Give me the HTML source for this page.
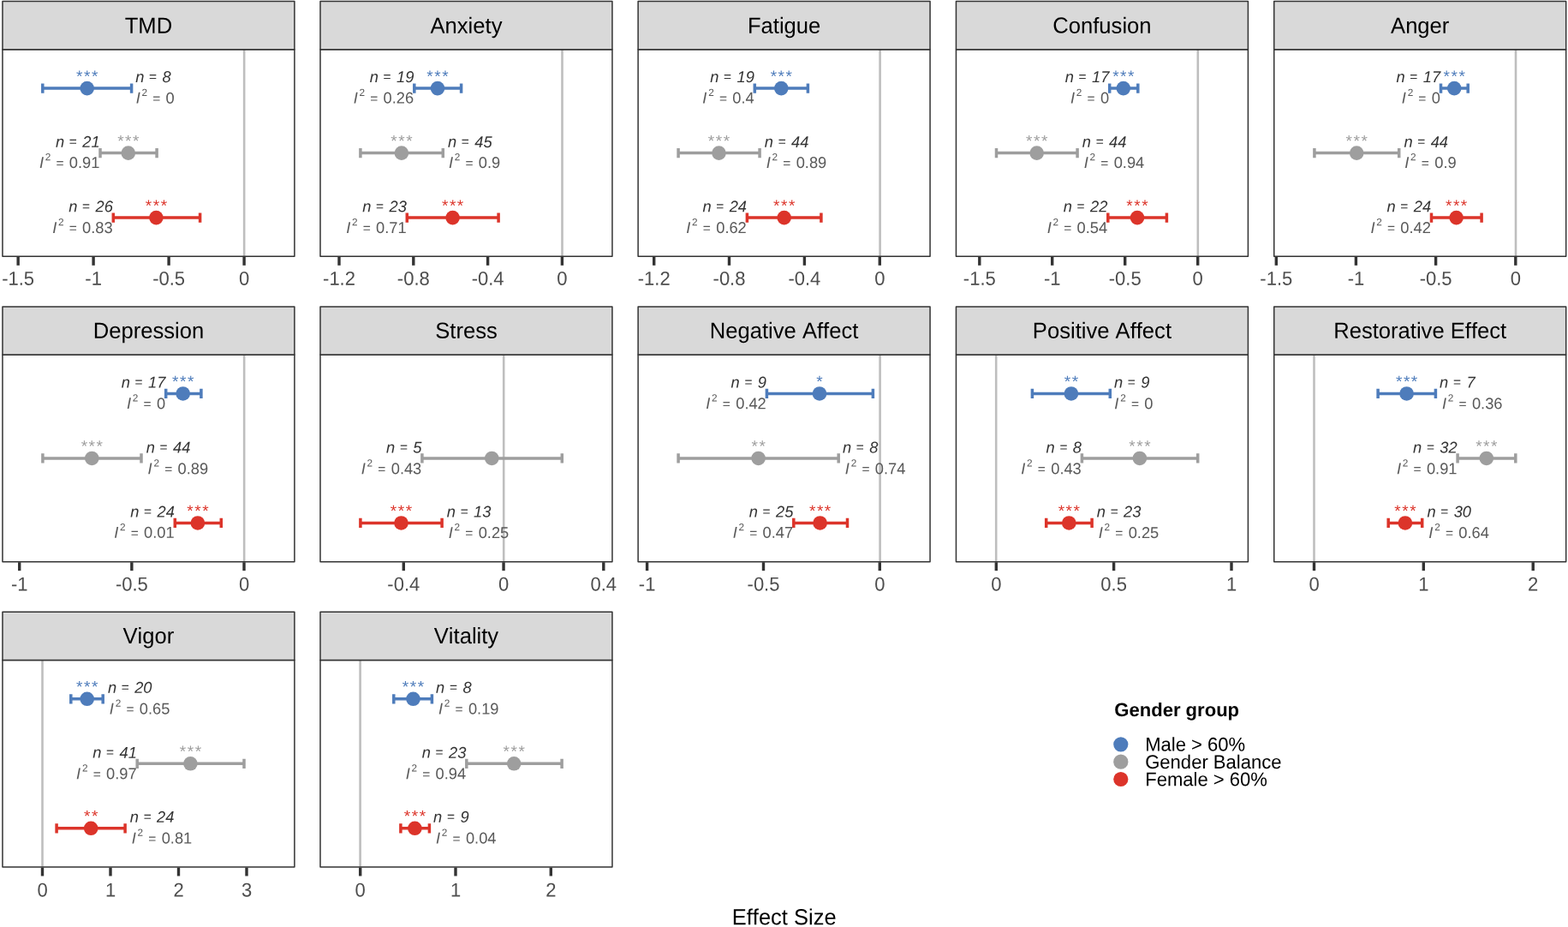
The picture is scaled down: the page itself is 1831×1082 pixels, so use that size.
<!DOCTYPE html>
<html lang="en"><head><meta charset="utf-8"><title>Effect Size by Gender group</title>
<style>
html,body{margin:0;padding:0;background:#fff;}
body{width:1831px;height:1082px;overflow:hidden;}
svg{display:block;font-family:"Liberation Sans",sans-serif;font-kerning:none;}
.strip{fill:#D9D9D9;stroke:#333333;stroke-width:1.5;stroke-linejoin:round;}
.panel{fill:#FFFFFF;stroke:none;}
.border{fill:none;stroke:#333333;stroke-width:1.5;stroke-linejoin:round;}
.zero{stroke:#BEBEBE;stroke-width:2.6;}
.tick{stroke:#333333;stroke-width:3.4;}
.ax{font-size:22.66px;fill:#4D4D4D;text-anchor:middle;}
.st{font-size:26.11px;fill:#000000;text-anchor:middle;}
.eb{stroke-width:3.5;fill:none;}
.star{font-size:19px;text-anchor:middle;letter-spacing:1.56px;}
.nl{font-size:18.48px;font-style:italic;fill:#333333;}
.eq{font-size:15.71px;}
.il{font-size:18.48px;fill:#595959;}
.sup{font-size:11.92px;}
.it{font-style:italic;}
.e{text-anchor:end;}
.lt{font-size:22.05px;font-weight:bold;fill:#000;}
.lg{font-size:22.49px;fill:#000;}
.xt{font-size:26.01px;fill:#000;text-anchor:middle;}
</style></head><body>
<svg width="1831" height="1082" viewBox="0 0 1831 1082">
<rect x="0" y="0" width="1831" height="1082" fill="#FFFFFF"/>
<g>
<rect class="panel" x="2.95" y="57.7" width="340.95" height="241.6"/>
<line class="zero" x1="285.15" y1="57.7" x2="285.15" y2="299.3"/>
<path class="eb" stroke="#4E7CBB" d="M49.8 103.1H153.6M49.8 97.5V108.7M153.6 97.5V108.7"/>
<circle cx="101.7" cy="103.1" r="8.3" fill="#4E7CBB"/>
<text class="star" transform="translate(102.48,95.4) rotate(0.03) scale(1.0000,1)" fill="#4E7CBB">***</text>
<text class="nl" transform="translate(158.32,95.97) rotate(0.03) scale(0.9901,1)">n <tspan class="eq" dx="0.31" dy="-1.3">=</tspan><tspan dx="1.56" dy="1.3"> 8</tspan></text>
<text class="il" transform="translate(158.67,120.61) rotate(0.03) scale(0.9901,1)"><tspan class="it">I</tspan><tspan class="sup" dx="1.77" dy="-8.7">2</tspan><tspan dx="0.29" dy="8.7"> </tspan><tspan class="eq" dx="0.81" dy="-0.4">=</tspan><tspan dx="1.21" dy="0.4"> 0</tspan></text>
<path class="eb" stroke="#9E9E9E" d="M117 178.6H183.1M117 173V184.2M183.1 173V184.2"/>
<circle cx="149.8" cy="178.6" r="8.3" fill="#9E9E9E"/>
<text class="star" transform="translate(150.58,170.9) rotate(0.03) scale(1.0000,1)" fill="#9E9E9E">***</text>
<text class="nl e" transform="translate(116.6,171.87) rotate(0.03) scale(0.9901,1)">n <tspan class="eq" dx="0.31" dy="-1.3">=</tspan><tspan dx="1.56" dy="1.3"> 21</tspan></text>
<text class="il e" transform="translate(116.4,196.07) rotate(0.03) scale(0.9901,1)"><tspan class="it">I</tspan><tspan class="sup" dx="1.77" dy="-8.7">2</tspan><tspan dx="0.29" dy="8.7"> </tspan><tspan class="eq" dx="0.81" dy="-0.4">=</tspan><tspan dx="1.21" dy="0.4"> 0.91</tspan></text>
<path class="eb" stroke="#DC342A" d="M132.3 254.1H233.6M132.3 248.5V259.7M233.6 248.5V259.7"/>
<circle cx="182.4" cy="254.1" r="8.3" fill="#DC342A"/>
<text class="star" transform="translate(183.18,246.4) rotate(0.03) scale(1.0000,1)" fill="#DC342A">***</text>
<text class="nl e" transform="translate(131.9,247.21) rotate(0.03) scale(0.9901,1)">n <tspan class="eq" dx="0.31" dy="-1.3">=</tspan><tspan dx="1.56" dy="1.3"> 26</tspan></text>
<text class="il e" transform="translate(131.7,271.97) rotate(0.03) scale(0.9901,1)"><tspan class="it">I</tspan><tspan class="sup" dx="1.77" dy="-8.7">2</tspan><tspan dx="0.29" dy="8.7"> </tspan><tspan class="eq" dx="0.81" dy="-0.4">=</tspan><tspan dx="1.21" dy="0.4"> 0.83</tspan></text>
<rect class="border" x="2.95" y="57.7" width="340.95" height="241.6"/>
<rect class="strip" x="2.95" y="1.6" width="340.95" height="56.1"/>
<text class="st" transform="translate(173.42,38.65) rotate(0.03) scale(0.9804,1)">TMD</text>
<line class="tick" x1="21.15" y1="299.9" x2="21.15" y2="309.8"/>
<text class="ax" transform="translate(21.15,332.8) rotate(0.03) scale(0.9709,1)">-1.5</text>
<line class="tick" x1="109.1" y1="299.9" x2="109.1" y2="309.8"/>
<text class="ax" transform="translate(109.1,332.8) rotate(0.03) scale(0.9709,1)">-1</text>
<line class="tick" x1="197.1" y1="299.9" x2="197.1" y2="309.8"/>
<text class="ax" transform="translate(197.1,332.8) rotate(0.03) scale(0.9709,1)">-0.5</text>
<line class="tick" x1="285.1" y1="299.9" x2="285.1" y2="309.8"/>
<text class="ax" transform="translate(285.1,332.8) rotate(0.03) scale(0.9709,1)">0</text>
</g>
<g>
<rect class="panel" x="374" y="57.7" width="340.95" height="241.6"/>
<line class="zero" x1="656.5" y1="57.7" x2="656.5" y2="299.3"/>
<path class="eb" stroke="#4E7CBB" d="M483.8 103.1H538.6M483.8 97.5V108.7M538.6 97.5V108.7"/>
<circle cx="511" cy="103.1" r="8.3" fill="#4E7CBB"/>
<text class="star" transform="translate(511.78,95.4) rotate(0.03) scale(1.0000,1)" fill="#4E7CBB">***</text>
<text class="nl e" transform="translate(483.4,95.97) rotate(0.03) scale(0.9901,1)">n <tspan class="eq" dx="0.31" dy="-1.3">=</tspan><tspan dx="1.56" dy="1.3"> 19</tspan></text>
<text class="il e" transform="translate(483.2,120.61) rotate(0.03) scale(0.9901,1)"><tspan class="it">I</tspan><tspan class="sup" dx="1.77" dy="-8.7">2</tspan><tspan dx="0.29" dy="8.7"> </tspan><tspan class="eq" dx="0.81" dy="-0.4">=</tspan><tspan dx="1.21" dy="0.4"> 0.26</tspan></text>
<path class="eb" stroke="#9E9E9E" d="M420.9 178.6H517.3M420.9 173V184.2M517.3 173V184.2"/>
<circle cx="468.9" cy="178.6" r="8.3" fill="#9E9E9E"/>
<text class="star" transform="translate(469.68,170.9) rotate(0.03) scale(1.0000,1)" fill="#9E9E9E">***</text>
<text class="nl" transform="translate(523.04,171.87) rotate(0.03) scale(0.9901,1)">n <tspan class="eq" dx="0.31" dy="-1.3">=</tspan><tspan dx="1.56" dy="1.3"> 45</tspan></text>
<text class="il" transform="translate(523.89,196.07) rotate(0.03) scale(0.9901,1)"><tspan class="it">I</tspan><tspan class="sup" dx="1.77" dy="-8.7">2</tspan><tspan dx="0.29" dy="8.7"> </tspan><tspan class="eq" dx="0.81" dy="-0.4">=</tspan><tspan dx="1.21" dy="0.4"> 0.9</tspan></text>
<path class="eb" stroke="#DC342A" d="M475.3 254.1H582.1M475.3 248.5V259.7M582.1 248.5V259.7"/>
<circle cx="528.6" cy="254.1" r="8.3" fill="#DC342A"/>
<text class="star" transform="translate(529.38,246.4) rotate(0.03) scale(1.0000,1)" fill="#DC342A">***</text>
<text class="nl e" transform="translate(474.9,247.21) rotate(0.03) scale(0.9901,1)">n <tspan class="eq" dx="0.31" dy="-1.3">=</tspan><tspan dx="1.56" dy="1.3"> 23</tspan></text>
<text class="il e" transform="translate(474.7,271.97) rotate(0.03) scale(0.9901,1)"><tspan class="it">I</tspan><tspan class="sup" dx="1.77" dy="-8.7">2</tspan><tspan dx="0.29" dy="8.7"> </tspan><tspan class="eq" dx="0.81" dy="-0.4">=</tspan><tspan dx="1.21" dy="0.4"> 0.71</tspan></text>
<rect class="border" x="374" y="57.7" width="340.95" height="241.6"/>
<rect class="strip" x="374" y="1.6" width="340.95" height="56.1"/>
<text class="st" transform="translate(544.48,38.65) rotate(0.03) scale(0.9804,1)">Anxiety</text>
<line class="tick" x1="396" y1="299.9" x2="396" y2="309.8"/>
<text class="ax" transform="translate(396,332.8) rotate(0.03) scale(0.9709,1)">-1.2</text>
<line class="tick" x1="482.8" y1="299.9" x2="482.8" y2="309.8"/>
<text class="ax" transform="translate(482.8,332.8) rotate(0.03) scale(0.9709,1)">-0.8</text>
<line class="tick" x1="569.6" y1="299.9" x2="569.6" y2="309.8"/>
<text class="ax" transform="translate(569.6,332.8) rotate(0.03) scale(0.9709,1)">-0.4</text>
<line class="tick" x1="656.4" y1="299.9" x2="656.4" y2="309.8"/>
<text class="ax" transform="translate(656.4,332.8) rotate(0.03) scale(0.9709,1)">0</text>
</g>
<g>
<rect class="panel" x="745.12" y="57.7" width="340.95" height="241.6"/>
<line class="zero" x1="1027.6" y1="57.7" x2="1027.6" y2="299.3"/>
<path class="eb" stroke="#4E7CBB" d="M881.3 103.1H943.4M881.3 97.5V108.7M943.4 97.5V108.7"/>
<circle cx="912.3" cy="103.1" r="8.3" fill="#4E7CBB"/>
<text class="star" transform="translate(913.08,95.4) rotate(0.03) scale(1.0000,1)" fill="#4E7CBB">***</text>
<text class="nl e" transform="translate(880.9,95.97) rotate(0.03) scale(0.9901,1)">n <tspan class="eq" dx="0.31" dy="-1.3">=</tspan><tspan dx="1.56" dy="1.3"> 19</tspan></text>
<text class="il e" transform="translate(880.7,120.61) rotate(0.03) scale(0.9901,1)"><tspan class="it">I</tspan><tspan class="sup" dx="1.77" dy="-8.7">2</tspan><tspan dx="0.29" dy="8.7"> </tspan><tspan class="eq" dx="0.81" dy="-0.4">=</tspan><tspan dx="1.21" dy="0.4"> 0.4</tspan></text>
<path class="eb" stroke="#9E9E9E" d="M792.1 178.6H887.1M792.1 173V184.2M887.1 173V184.2"/>
<circle cx="839.5" cy="178.6" r="8.3" fill="#9E9E9E"/>
<text class="star" transform="translate(840.28,170.9) rotate(0.03) scale(1.0000,1)" fill="#9E9E9E">***</text>
<text class="nl" transform="translate(892.84,171.87) rotate(0.03) scale(0.9901,1)">n <tspan class="eq" dx="0.31" dy="-1.3">=</tspan><tspan dx="1.56" dy="1.3"> 44</tspan></text>
<text class="il" transform="translate(894.71,196.07) rotate(0.03) scale(0.9901,1)"><tspan class="it">I</tspan><tspan class="sup" dx="1.77" dy="-8.7">2</tspan><tspan dx="0.29" dy="8.7"> </tspan><tspan class="eq" dx="0.81" dy="-0.4">=</tspan><tspan dx="1.21" dy="0.4"> 0.89</tspan></text>
<path class="eb" stroke="#DC342A" d="M872.4 254.1H958.9M872.4 248.5V259.7M958.9 248.5V259.7"/>
<circle cx="915.7" cy="254.1" r="8.3" fill="#DC342A"/>
<text class="star" transform="translate(916.48,246.4) rotate(0.03) scale(1.0000,1)" fill="#DC342A">***</text>
<text class="nl e" transform="translate(872,247.21) rotate(0.03) scale(0.9901,1)">n <tspan class="eq" dx="0.31" dy="-1.3">=</tspan><tspan dx="1.56" dy="1.3"> 24</tspan></text>
<text class="il e" transform="translate(871.8,271.97) rotate(0.03) scale(0.9901,1)"><tspan class="it">I</tspan><tspan class="sup" dx="1.77" dy="-8.7">2</tspan><tspan dx="0.29" dy="8.7"> </tspan><tspan class="eq" dx="0.81" dy="-0.4">=</tspan><tspan dx="1.21" dy="0.4"> 0.62</tspan></text>
<rect class="border" x="745.12" y="57.7" width="340.95" height="241.6"/>
<rect class="strip" x="745.12" y="1.6" width="340.95" height="56.1"/>
<text class="st" transform="translate(915.6,38.65) rotate(0.03) scale(0.9804,1)">Fatigue</text>
<line class="tick" x1="763.7" y1="299.9" x2="763.7" y2="309.8"/>
<text class="ax" transform="translate(763.7,332.8) rotate(0.03) scale(0.9709,1)">-1.2</text>
<line class="tick" x1="851.5" y1="299.9" x2="851.5" y2="309.8"/>
<text class="ax" transform="translate(851.5,332.8) rotate(0.03) scale(0.9709,1)">-0.8</text>
<line class="tick" x1="939.4" y1="299.9" x2="939.4" y2="309.8"/>
<text class="ax" transform="translate(939.4,332.8) rotate(0.03) scale(0.9709,1)">-0.4</text>
<line class="tick" x1="1027.3" y1="299.9" x2="1027.3" y2="309.8"/>
<text class="ax" transform="translate(1027.3,332.8) rotate(0.03) scale(0.9709,1)">0</text>
</g>
<g>
<rect class="panel" x="1116.46" y="57.7" width="340.95" height="241.6"/>
<line class="zero" x1="1398.8" y1="57.7" x2="1398.8" y2="299.3"/>
<path class="eb" stroke="#4E7CBB" d="M1295.7 103.1H1328.8M1295.7 97.5V108.7M1328.8 97.5V108.7"/>
<circle cx="1311.8" cy="103.1" r="8.3" fill="#4E7CBB"/>
<text class="star" transform="translate(1312.58,95.4) rotate(0.03) scale(1.0000,1)" fill="#4E7CBB">***</text>
<text class="nl e" transform="translate(1295.3,95.97) rotate(0.03) scale(0.9901,1)">n <tspan class="eq" dx="0.31" dy="-1.3">=</tspan><tspan dx="1.56" dy="1.3"> 17</tspan></text>
<text class="il e" transform="translate(1295.1,120.61) rotate(0.03) scale(0.9901,1)"><tspan class="it">I</tspan><tspan class="sup" dx="1.77" dy="-8.7">2</tspan><tspan dx="0.29" dy="8.7"> </tspan><tspan class="eq" dx="0.81" dy="-0.4">=</tspan><tspan dx="1.21" dy="0.4"> 0</tspan></text>
<path class="eb" stroke="#9E9E9E" d="M1163.5 178.6H1258.1M1163.5 173V184.2M1258.1 173V184.2"/>
<circle cx="1210.7" cy="178.6" r="8.3" fill="#9E9E9E"/>
<text class="star" transform="translate(1211.48,170.9) rotate(0.03) scale(1.0000,1)" fill="#9E9E9E">***</text>
<text class="nl" transform="translate(1263.84,171.87) rotate(0.03) scale(0.9901,1)">n <tspan class="eq" dx="0.31" dy="-1.3">=</tspan><tspan dx="1.56" dy="1.3"> 44</tspan></text>
<text class="il" transform="translate(1265.71,196.07) rotate(0.03) scale(0.9901,1)"><tspan class="it">I</tspan><tspan class="sup" dx="1.77" dy="-8.7">2</tspan><tspan dx="0.29" dy="8.7"> </tspan><tspan class="eq" dx="0.81" dy="-0.4">=</tspan><tspan dx="1.21" dy="0.4"> 0.94</tspan></text>
<path class="eb" stroke="#DC342A" d="M1293.8 254.1H1362.4M1293.8 248.5V259.7M1362.4 248.5V259.7"/>
<circle cx="1328" cy="254.1" r="8.3" fill="#DC342A"/>
<text class="star" transform="translate(1328.78,246.4) rotate(0.03) scale(1.0000,1)" fill="#DC342A">***</text>
<text class="nl e" transform="translate(1293.4,247.21) rotate(0.03) scale(0.9901,1)">n <tspan class="eq" dx="0.31" dy="-1.3">=</tspan><tspan dx="1.56" dy="1.3"> 22</tspan></text>
<text class="il e" transform="translate(1293.2,271.97) rotate(0.03) scale(0.9901,1)"><tspan class="it">I</tspan><tspan class="sup" dx="1.77" dy="-8.7">2</tspan><tspan dx="0.29" dy="8.7"> </tspan><tspan class="eq" dx="0.81" dy="-0.4">=</tspan><tspan dx="1.21" dy="0.4"> 0.54</tspan></text>
<rect class="border" x="1116.46" y="57.7" width="340.95" height="241.6"/>
<rect class="strip" x="1116.46" y="1.6" width="340.95" height="56.1"/>
<text class="st" transform="translate(1286.93,38.65) rotate(0.03) scale(0.9804,1)">Confusion</text>
<line class="tick" x1="1143.8" y1="299.9" x2="1143.8" y2="309.8"/>
<text class="ax" transform="translate(1143.8,332.8) rotate(0.03) scale(0.9709,1)">-1.5</text>
<line class="tick" x1="1228.7" y1="299.9" x2="1228.7" y2="309.8"/>
<text class="ax" transform="translate(1228.7,332.8) rotate(0.03) scale(0.9709,1)">-1</text>
<line class="tick" x1="1313.7" y1="299.9" x2="1313.7" y2="309.8"/>
<text class="ax" transform="translate(1313.7,332.8) rotate(0.03) scale(0.9709,1)">-0.5</text>
<line class="tick" x1="1398.7" y1="299.9" x2="1398.7" y2="309.8"/>
<text class="ax" transform="translate(1398.7,332.8) rotate(0.03) scale(0.9709,1)">0</text>
</g>
<g>
<rect class="panel" x="1487.74" y="57.7" width="340.95" height="241.6"/>
<line class="zero" x1="1770" y1="57.7" x2="1770" y2="299.3"/>
<path class="eb" stroke="#4E7CBB" d="M1682.5 103.1H1714.2M1682.5 97.5V108.7M1714.2 97.5V108.7"/>
<circle cx="1698.2" cy="103.1" r="8.3" fill="#4E7CBB"/>
<text class="star" transform="translate(1698.98,95.4) rotate(0.03) scale(1.0000,1)" fill="#4E7CBB">***</text>
<text class="nl e" transform="translate(1682.1,95.97) rotate(0.03) scale(0.9901,1)">n <tspan class="eq" dx="0.31" dy="-1.3">=</tspan><tspan dx="1.56" dy="1.3"> 17</tspan></text>
<text class="il e" transform="translate(1681.9,120.61) rotate(0.03) scale(0.9901,1)"><tspan class="it">I</tspan><tspan class="sup" dx="1.77" dy="-8.7">2</tspan><tspan dx="0.29" dy="8.7"> </tspan><tspan class="eq" dx="0.81" dy="-0.4">=</tspan><tspan dx="1.21" dy="0.4"> 0</tspan></text>
<path class="eb" stroke="#9E9E9E" d="M1534.9 178.6H1633.7M1534.9 173V184.2M1633.7 173V184.2"/>
<circle cx="1584.2" cy="178.6" r="8.3" fill="#9E9E9E"/>
<text class="star" transform="translate(1584.98,170.9) rotate(0.03) scale(1.0000,1)" fill="#9E9E9E">***</text>
<text class="nl" transform="translate(1639.44,171.87) rotate(0.03) scale(0.9901,1)">n <tspan class="eq" dx="0.31" dy="-1.3">=</tspan><tspan dx="1.56" dy="1.3"> 44</tspan></text>
<text class="il" transform="translate(1640.29,196.07) rotate(0.03) scale(0.9901,1)"><tspan class="it">I</tspan><tspan class="sup" dx="1.77" dy="-8.7">2</tspan><tspan dx="0.29" dy="8.7"> </tspan><tspan class="eq" dx="0.81" dy="-0.4">=</tspan><tspan dx="1.21" dy="0.4"> 0.9</tspan></text>
<path class="eb" stroke="#DC342A" d="M1671.5 254.1H1730.1M1671.5 248.5V259.7M1730.1 248.5V259.7"/>
<circle cx="1700.6" cy="254.1" r="8.3" fill="#DC342A"/>
<text class="star" transform="translate(1701.38,246.4) rotate(0.03) scale(1.0000,1)" fill="#DC342A">***</text>
<text class="nl e" transform="translate(1671.1,247.21) rotate(0.03) scale(0.9901,1)">n <tspan class="eq" dx="0.31" dy="-1.3">=</tspan><tspan dx="1.56" dy="1.3"> 24</tspan></text>
<text class="il e" transform="translate(1670.9,271.97) rotate(0.03) scale(0.9901,1)"><tspan class="it">I</tspan><tspan class="sup" dx="1.77" dy="-8.7">2</tspan><tspan dx="0.29" dy="8.7"> </tspan><tspan class="eq" dx="0.81" dy="-0.4">=</tspan><tspan dx="1.21" dy="0.4"> 0.42</tspan></text>
<rect class="border" x="1487.74" y="57.7" width="340.95" height="241.6"/>
<rect class="strip" x="1487.74" y="1.6" width="340.95" height="56.1"/>
<text class="st" transform="translate(1658.21,38.65) rotate(0.03) scale(0.9804,1)">Anger</text>
<line class="tick" x1="1490.3" y1="299.9" x2="1490.3" y2="309.8"/>
<text class="ax" transform="translate(1490.3,332.8) rotate(0.03) scale(0.9709,1)">-1.5</text>
<line class="tick" x1="1583.4" y1="299.9" x2="1583.4" y2="309.8"/>
<text class="ax" transform="translate(1583.4,332.8) rotate(0.03) scale(0.9709,1)">-1</text>
<line class="tick" x1="1676.6" y1="299.9" x2="1676.6" y2="309.8"/>
<text class="ax" transform="translate(1676.6,332.8) rotate(0.03) scale(0.9709,1)">-0.5</text>
<line class="tick" x1="1769.8" y1="299.9" x2="1769.8" y2="309.8"/>
<text class="ax" transform="translate(1769.8,332.8) rotate(0.03) scale(0.9709,1)">0</text>
</g>
<g>
<rect class="panel" x="2.95" y="414.05" width="340.95" height="241.6"/>
<line class="zero" x1="285.15" y1="414.05" x2="285.15" y2="655.65"/>
<path class="eb" stroke="#4E7CBB" d="M193.7 459.45H234.9M193.7 453.85V465.05M234.9 453.85V465.05"/>
<circle cx="213.7" cy="459.45" r="8.3" fill="#4E7CBB"/>
<text class="star" transform="translate(214.48,451.75) rotate(0.03) scale(1.0000,1)" fill="#4E7CBB">***</text>
<text class="nl e" transform="translate(193.3,452.52) rotate(0.03) scale(0.9901,1)">n <tspan class="eq" dx="0.31" dy="-1.3">=</tspan><tspan dx="1.56" dy="1.3"> 17</tspan></text>
<text class="il e" transform="translate(193.1,477.14) rotate(0.03) scale(0.9901,1)"><tspan class="it">I</tspan><tspan class="sup" dx="1.77" dy="-8.7">2</tspan><tspan dx="0.29" dy="8.7"> </tspan><tspan class="eq" dx="0.81" dy="-0.4">=</tspan><tspan dx="1.21" dy="0.4"> 0</tspan></text>
<path class="eb" stroke="#9E9E9E" d="M49.9 534.95H165M49.9 529.35V540.55M165 529.35V540.55"/>
<circle cx="107.3" cy="534.95" r="8.3" fill="#9E9E9E"/>
<text class="star" transform="translate(108.08,527.25) rotate(0.03) scale(1.0000,1)" fill="#9E9E9E">***</text>
<text class="nl" transform="translate(170.74,528.55) rotate(0.03) scale(0.9901,1)">n <tspan class="eq" dx="0.31" dy="-1.3">=</tspan><tspan dx="1.56" dy="1.3"> 44</tspan></text>
<text class="il" transform="translate(172.61,553.18) rotate(0.03) scale(0.9901,1)"><tspan class="it">I</tspan><tspan class="sup" dx="1.77" dy="-8.7">2</tspan><tspan dx="0.29" dy="8.7"> </tspan><tspan class="eq" dx="0.81" dy="-0.4">=</tspan><tspan dx="1.21" dy="0.4"> 0.89</tspan></text>
<path class="eb" stroke="#DC342A" d="M204.3 610.45H258.3M204.3 604.85V616.05M258.3 604.85V616.05"/>
<circle cx="230.9" cy="610.45" r="8.3" fill="#DC342A"/>
<text class="star" transform="translate(231.68,602.75) rotate(0.03) scale(1.0000,1)" fill="#DC342A">***</text>
<text class="nl e" transform="translate(203.9,603.52) rotate(0.03) scale(0.9901,1)">n <tspan class="eq" dx="0.31" dy="-1.3">=</tspan><tspan dx="1.56" dy="1.3"> 24</tspan></text>
<text class="il e" transform="translate(203.7,627.88) rotate(0.03) scale(0.9901,1)"><tspan class="it">I</tspan><tspan class="sup" dx="1.77" dy="-8.7">2</tspan><tspan dx="0.29" dy="8.7"> </tspan><tspan class="eq" dx="0.81" dy="-0.4">=</tspan><tspan dx="1.21" dy="0.4"> 0.01</tspan></text>
<rect class="border" x="2.95" y="414.05" width="340.95" height="241.6"/>
<rect class="strip" x="2.95" y="357.95" width="340.95" height="56.1"/>
<text class="st" transform="translate(173.42,394.7) rotate(0.03) scale(0.9804,1)">Depression</text>
<line class="tick" x1="22.7" y1="656.25" x2="22.7" y2="666.15"/>
<text class="ax" transform="translate(22.7,689.5) rotate(0.03) scale(0.9709,1)">-1</text>
<line class="tick" x1="153.85" y1="656.25" x2="153.85" y2="666.15"/>
<text class="ax" transform="translate(153.85,689.5) rotate(0.03) scale(0.9709,1)">-0.5</text>
<line class="tick" x1="285" y1="656.25" x2="285" y2="666.15"/>
<text class="ax" transform="translate(285,689.5) rotate(0.03) scale(0.9709,1)">0</text>
</g>
<g>
<rect class="panel" x="374" y="414.05" width="340.95" height="241.6"/>
<line class="zero" x1="588.2" y1="414.05" x2="588.2" y2="655.65"/>
<path class="eb" stroke="#9E9E9E" d="M492.9 534.95H656.3M492.9 529.35V540.55M656.3 529.35V540.55"/>
<circle cx="574.3" cy="534.95" r="8.3" fill="#9E9E9E"/>
<text class="nl e" transform="translate(492.5,528.55) rotate(0.03) scale(0.9901,1)">n <tspan class="eq" dx="0.31" dy="-1.3">=</tspan><tspan dx="1.56" dy="1.3"> 5</tspan></text>
<text class="il e" transform="translate(492.3,553.18) rotate(0.03) scale(0.9901,1)"><tspan class="it">I</tspan><tspan class="sup" dx="1.77" dy="-8.7">2</tspan><tspan dx="0.29" dy="8.7"> </tspan><tspan class="eq" dx="0.81" dy="-0.4">=</tspan><tspan dx="1.21" dy="0.4"> 0.43</tspan></text>
<path class="eb" stroke="#DC342A" d="M420.9 610.45H516.1M420.9 604.85V616.05M516.1 604.85V616.05"/>
<circle cx="468.5" cy="610.45" r="8.3" fill="#DC342A"/>
<text class="star" transform="translate(469.28,602.75) rotate(0.03) scale(1.0000,1)" fill="#DC342A">***</text>
<text class="nl" transform="translate(521.84,603.52) rotate(0.03) scale(0.9901,1)">n <tspan class="eq" dx="0.31" dy="-1.3">=</tspan><tspan dx="1.56" dy="1.3"> 13</tspan></text>
<text class="il" transform="translate(523.71,627.88) rotate(0.03) scale(0.9901,1)"><tspan class="it">I</tspan><tspan class="sup" dx="1.77" dy="-8.7">2</tspan><tspan dx="0.29" dy="8.7"> </tspan><tspan class="eq" dx="0.81" dy="-0.4">=</tspan><tspan dx="1.21" dy="0.4"> 0.25</tspan></text>
<rect class="border" x="374" y="414.05" width="340.95" height="241.6"/>
<rect class="strip" x="374" y="357.95" width="340.95" height="56.1"/>
<text class="st" transform="translate(544.48,394.7) rotate(0.03) scale(0.9804,1)">Stress</text>
<line class="tick" x1="471.3" y1="656.25" x2="471.3" y2="666.15"/>
<text class="ax" transform="translate(471.3,689.5) rotate(0.03) scale(0.9709,1)">-0.4</text>
<line class="tick" x1="588.05" y1="656.25" x2="588.05" y2="666.15"/>
<text class="ax" transform="translate(588.05,689.5) rotate(0.03) scale(0.9709,1)">0</text>
<line class="tick" x1="704.8" y1="656.25" x2="704.8" y2="666.15"/>
<text class="ax" transform="translate(704.8,689.5) rotate(0.03) scale(0.9709,1)">0.4</text>
</g>
<g>
<rect class="panel" x="745.12" y="414.05" width="340.95" height="241.6"/>
<line class="zero" x1="1027.6" y1="414.05" x2="1027.6" y2="655.65"/>
<path class="eb" stroke="#4E7CBB" d="M895.4 459.45H1019.4M895.4 453.85V465.05M1019.4 453.85V465.05"/>
<circle cx="957" cy="459.45" r="8.3" fill="#4E7CBB"/>
<text class="star" transform="translate(957.78,451.75) rotate(0.03) scale(1.0000,1)" fill="#4E7CBB">*</text>
<text class="nl e" transform="translate(895,452.52) rotate(0.03) scale(0.9901,1)">n <tspan class="eq" dx="0.31" dy="-1.3">=</tspan><tspan dx="1.56" dy="1.3"> 9</tspan></text>
<text class="il e" transform="translate(894.8,477.14) rotate(0.03) scale(0.9901,1)"><tspan class="it">I</tspan><tspan class="sup" dx="1.77" dy="-8.7">2</tspan><tspan dx="0.29" dy="8.7"> </tspan><tspan class="eq" dx="0.81" dy="-0.4">=</tspan><tspan dx="1.21" dy="0.4"> 0.42</tspan></text>
<path class="eb" stroke="#9E9E9E" d="M792.1 534.95H979.2M792.1 529.35V540.55M979.2 529.35V540.55"/>
<circle cx="885.6" cy="534.95" r="8.3" fill="#9E9E9E"/>
<text class="star" transform="translate(886.38,527.25) rotate(0.03) scale(1.0000,1)" fill="#9E9E9E">**</text>
<text class="nl" transform="translate(983.92,528.55) rotate(0.03) scale(0.9901,1)">n <tspan class="eq" dx="0.31" dy="-1.3">=</tspan><tspan dx="1.56" dy="1.3"> 8</tspan></text>
<text class="il" transform="translate(986.81,553.18) rotate(0.03) scale(0.9901,1)"><tspan class="it">I</tspan><tspan class="sup" dx="1.77" dy="-8.7">2</tspan><tspan dx="0.29" dy="8.7"> </tspan><tspan class="eq" dx="0.81" dy="-0.4">=</tspan><tspan dx="1.21" dy="0.4"> 0.74</tspan></text>
<path class="eb" stroke="#DC342A" d="M926.8 610.45H989.5M926.8 604.85V616.05M989.5 604.85V616.05"/>
<circle cx="957.6" cy="610.45" r="8.3" fill="#DC342A"/>
<text class="star" transform="translate(958.38,602.75) rotate(0.03) scale(1.0000,1)" fill="#DC342A">***</text>
<text class="nl e" transform="translate(926.4,603.52) rotate(0.03) scale(0.9901,1)">n <tspan class="eq" dx="0.31" dy="-1.3">=</tspan><tspan dx="1.56" dy="1.3"> 25</tspan></text>
<text class="il e" transform="translate(926.2,627.88) rotate(0.03) scale(0.9901,1)"><tspan class="it">I</tspan><tspan class="sup" dx="1.77" dy="-8.7">2</tspan><tspan dx="0.29" dy="8.7"> </tspan><tspan class="eq" dx="0.81" dy="-0.4">=</tspan><tspan dx="1.21" dy="0.4"> 0.47</tspan></text>
<rect class="border" x="745.12" y="414.05" width="340.95" height="241.6"/>
<rect class="strip" x="745.12" y="357.95" width="340.95" height="56.1"/>
<text class="st" transform="translate(915.6,394.7) rotate(0.03) scale(0.9804,1)">Negative Affect</text>
<line class="tick" x1="755.6" y1="656.25" x2="755.6" y2="666.15"/>
<text class="ax" transform="translate(755.6,689.5) rotate(0.03) scale(0.9709,1)">-1</text>
<line class="tick" x1="891.5" y1="656.25" x2="891.5" y2="666.15"/>
<text class="ax" transform="translate(891.5,689.5) rotate(0.03) scale(0.9709,1)">-0.5</text>
<line class="tick" x1="1027.3" y1="656.25" x2="1027.3" y2="666.15"/>
<text class="ax" transform="translate(1027.3,689.5) rotate(0.03) scale(0.9709,1)">0</text>
</g>
<g>
<rect class="panel" x="1116.46" y="414.05" width="340.95" height="241.6"/>
<line class="zero" x1="1163.2" y1="414.05" x2="1163.2" y2="655.65"/>
<path class="eb" stroke="#4E7CBB" d="M1205.4 459.45H1296.3M1205.4 453.85V465.05M1296.3 453.85V465.05"/>
<circle cx="1250.9" cy="459.45" r="8.3" fill="#4E7CBB"/>
<text class="star" transform="translate(1251.68,451.75) rotate(0.03) scale(1.0000,1)" fill="#4E7CBB">**</text>
<text class="nl" transform="translate(1301.02,452.52) rotate(0.03) scale(0.9901,1)">n <tspan class="eq" dx="0.31" dy="-1.3">=</tspan><tspan dx="1.56" dy="1.3"> 9</tspan></text>
<text class="il" transform="translate(1301.37,477.14) rotate(0.03) scale(0.9901,1)"><tspan class="it">I</tspan><tspan class="sup" dx="1.77" dy="-8.7">2</tspan><tspan dx="0.29" dy="8.7"> </tspan><tspan class="eq" dx="0.81" dy="-0.4">=</tspan><tspan dx="1.21" dy="0.4"> 0</tspan></text>
<path class="eb" stroke="#9E9E9E" d="M1263.4 534.95H1398.7M1263.4 529.35V540.55M1398.7 529.35V540.55"/>
<circle cx="1330.9" cy="534.95" r="8.3" fill="#9E9E9E"/>
<text class="star" transform="translate(1331.68,527.25) rotate(0.03) scale(1.0000,1)" fill="#9E9E9E">***</text>
<text class="nl e" transform="translate(1263,528.55) rotate(0.03) scale(0.9901,1)">n <tspan class="eq" dx="0.31" dy="-1.3">=</tspan><tspan dx="1.56" dy="1.3"> 8</tspan></text>
<text class="il e" transform="translate(1262.8,553.18) rotate(0.03) scale(0.9901,1)"><tspan class="it">I</tspan><tspan class="sup" dx="1.77" dy="-8.7">2</tspan><tspan dx="0.29" dy="8.7"> </tspan><tspan class="eq" dx="0.81" dy="-0.4">=</tspan><tspan dx="1.21" dy="0.4"> 0.43</tspan></text>
<path class="eb" stroke="#DC342A" d="M1221.7 610.45H1275.1M1221.7 604.85V616.05M1275.1 604.85V616.05"/>
<circle cx="1248.3" cy="610.45" r="8.3" fill="#DC342A"/>
<text class="star" transform="translate(1249.08,602.75) rotate(0.03) scale(1.0000,1)" fill="#DC342A">***</text>
<text class="nl" transform="translate(1280.84,603.52) rotate(0.03) scale(0.9901,1)">n <tspan class="eq" dx="0.31" dy="-1.3">=</tspan><tspan dx="1.56" dy="1.3"> 23</tspan></text>
<text class="il" transform="translate(1282.71,627.88) rotate(0.03) scale(0.9901,1)"><tspan class="it">I</tspan><tspan class="sup" dx="1.77" dy="-8.7">2</tspan><tspan dx="0.29" dy="8.7"> </tspan><tspan class="eq" dx="0.81" dy="-0.4">=</tspan><tspan dx="1.21" dy="0.4"> 0.25</tspan></text>
<rect class="border" x="1116.46" y="414.05" width="340.95" height="241.6"/>
<rect class="strip" x="1116.46" y="357.95" width="340.95" height="56.1"/>
<text class="st" transform="translate(1286.93,394.7) rotate(0.03) scale(0.9804,1)">Positive Affect</text>
<line class="tick" x1="1163.3" y1="656.25" x2="1163.3" y2="666.15"/>
<text class="ax" transform="translate(1163.3,689.5) rotate(0.03) scale(0.9709,1)">0</text>
<line class="tick" x1="1300.6" y1="656.25" x2="1300.6" y2="666.15"/>
<text class="ax" transform="translate(1300.6,689.5) rotate(0.03) scale(0.9709,1)">0.5</text>
<line class="tick" x1="1438" y1="656.25" x2="1438" y2="666.15"/>
<text class="ax" transform="translate(1438,689.5) rotate(0.03) scale(0.9709,1)">1</text>
</g>
<g>
<rect class="panel" x="1487.74" y="414.05" width="340.95" height="241.6"/>
<line class="zero" x1="1534.5" y1="414.05" x2="1534.5" y2="655.65"/>
<path class="eb" stroke="#4E7CBB" d="M1609.1 459.45H1676.4M1609.1 453.85V465.05M1676.4 453.85V465.05"/>
<circle cx="1642.6" cy="459.45" r="8.3" fill="#4E7CBB"/>
<text class="star" transform="translate(1643.38,451.75) rotate(0.03) scale(1.0000,1)" fill="#4E7CBB">***</text>
<text class="nl" transform="translate(1681.12,452.52) rotate(0.03) scale(0.9901,1)">n <tspan class="eq" dx="0.31" dy="-1.3">=</tspan><tspan dx="1.56" dy="1.3"> 7</tspan></text>
<text class="il" transform="translate(1684.01,477.14) rotate(0.03) scale(0.9901,1)"><tspan class="it">I</tspan><tspan class="sup" dx="1.77" dy="-8.7">2</tspan><tspan dx="0.29" dy="8.7"> </tspan><tspan class="eq" dx="0.81" dy="-0.4">=</tspan><tspan dx="1.21" dy="0.4"> 0.36</tspan></text>
<path class="eb" stroke="#9E9E9E" d="M1702.1 534.95H1769.8M1702.1 529.35V540.55M1769.8 529.35V540.55"/>
<circle cx="1735.8" cy="534.95" r="8.3" fill="#9E9E9E"/>
<text class="star" transform="translate(1736.58,527.25) rotate(0.03) scale(1.0000,1)" fill="#9E9E9E">***</text>
<text class="nl e" transform="translate(1701.7,528.55) rotate(0.03) scale(0.9901,1)">n <tspan class="eq" dx="0.31" dy="-1.3">=</tspan><tspan dx="1.56" dy="1.3"> 32</tspan></text>
<text class="il e" transform="translate(1701.5,553.18) rotate(0.03) scale(0.9901,1)"><tspan class="it">I</tspan><tspan class="sup" dx="1.77" dy="-8.7">2</tspan><tspan dx="0.29" dy="8.7"> </tspan><tspan class="eq" dx="0.81" dy="-0.4">=</tspan><tspan dx="1.21" dy="0.4"> 0.91</tspan></text>
<path class="eb" stroke="#DC342A" d="M1621.2 610.45H1660.7M1621.2 604.85V616.05M1660.7 604.85V616.05"/>
<circle cx="1640.9" cy="610.45" r="8.3" fill="#DC342A"/>
<text class="star" transform="translate(1641.68,602.75) rotate(0.03) scale(1.0000,1)" fill="#DC342A">***</text>
<text class="nl" transform="translate(1666.44,603.52) rotate(0.03) scale(0.9901,1)">n <tspan class="eq" dx="0.31" dy="-1.3">=</tspan><tspan dx="1.56" dy="1.3"> 30</tspan></text>
<text class="il" transform="translate(1668.31,627.88) rotate(0.03) scale(0.9901,1)"><tspan class="it">I</tspan><tspan class="sup" dx="1.77" dy="-8.7">2</tspan><tspan dx="0.29" dy="8.7"> </tspan><tspan class="eq" dx="0.81" dy="-0.4">=</tspan><tspan dx="1.21" dy="0.4"> 0.64</tspan></text>
<rect class="border" x="1487.74" y="414.05" width="340.95" height="241.6"/>
<rect class="strip" x="1487.74" y="357.95" width="340.95" height="56.1"/>
<text class="st" transform="translate(1658.21,394.7) rotate(0.03) scale(0.9804,1)">Restorative Effect</text>
<line class="tick" x1="1534.5" y1="656.25" x2="1534.5" y2="666.15"/>
<text class="ax" transform="translate(1534.5,689.5) rotate(0.03) scale(0.9709,1)">0</text>
<line class="tick" x1="1662.3" y1="656.25" x2="1662.3" y2="666.15"/>
<text class="ax" transform="translate(1662.3,689.5) rotate(0.03) scale(0.9709,1)">1</text>
<line class="tick" x1="1790.2" y1="656.25" x2="1790.2" y2="666.15"/>
<text class="ax" transform="translate(1790.2,689.5) rotate(0.03) scale(0.9709,1)">2</text>
</g>
<g>
<rect class="panel" x="2.95" y="770.4" width="340.95" height="241.6"/>
<line class="zero" x1="49.5" y1="770.4" x2="49.5" y2="1012"/>
<path class="eb" stroke="#4E7CBB" d="M82.8 815.8H120.2M82.8 810.2V821.4M120.2 810.2V821.4"/>
<circle cx="101.7" cy="815.8" r="8.3" fill="#4E7CBB"/>
<text class="star" transform="translate(102.48,808.1) rotate(0.03) scale(1.0000,1)" fill="#4E7CBB">***</text>
<text class="nl" transform="translate(125.94,808.71) rotate(0.03) scale(0.9901,1)">n <tspan class="eq" dx="0.31" dy="-1.3">=</tspan><tspan dx="1.56" dy="1.3"> 20</tspan></text>
<text class="il" transform="translate(127.81,833.43) rotate(0.03) scale(0.9901,1)"><tspan class="it">I</tspan><tspan class="sup" dx="1.77" dy="-8.7">2</tspan><tspan dx="0.29" dy="8.7"> </tspan><tspan class="eq" dx="0.81" dy="-0.4">=</tspan><tspan dx="1.21" dy="0.4"> 0.65</tspan></text>
<path class="eb" stroke="#9E9E9E" d="M160.2 891.3H285M160.2 885.7V896.9M285 885.7V896.9"/>
<circle cx="222.4" cy="891.3" r="8.3" fill="#9E9E9E"/>
<text class="star" transform="translate(223.18,883.6) rotate(0.03) scale(1.0000,1)" fill="#9E9E9E">***</text>
<text class="nl e" transform="translate(159.8,884.65) rotate(0.03) scale(0.9901,1)">n <tspan class="eq" dx="0.31" dy="-1.3">=</tspan><tspan dx="1.56" dy="1.3"> 41</tspan></text>
<text class="il e" transform="translate(159.6,909.33) rotate(0.03) scale(0.9901,1)"><tspan class="it">I</tspan><tspan class="sup" dx="1.77" dy="-8.7">2</tspan><tspan dx="0.29" dy="8.7"> </tspan><tspan class="eq" dx="0.81" dy="-0.4">=</tspan><tspan dx="1.21" dy="0.4"> 0.97</tspan></text>
<path class="eb" stroke="#DC342A" d="M66.1 966.8H146.1M66.1 961.2V972.4M146.1 961.2V972.4"/>
<circle cx="106.2" cy="966.8" r="8.3" fill="#DC342A"/>
<text class="star" transform="translate(106.98,959.1) rotate(0.03) scale(1.0000,1)" fill="#DC342A">**</text>
<text class="nl" transform="translate(151.84,959.75) rotate(0.03) scale(0.9901,1)">n <tspan class="eq" dx="0.31" dy="-1.3">=</tspan><tspan dx="1.56" dy="1.3"> 24</tspan></text>
<text class="il" transform="translate(153.71,984.51) rotate(0.03) scale(0.9901,1)"><tspan class="it">I</tspan><tspan class="sup" dx="1.77" dy="-8.7">2</tspan><tspan dx="0.29" dy="8.7"> </tspan><tspan class="eq" dx="0.81" dy="-0.4">=</tspan><tspan dx="1.21" dy="0.4"> 0.81</tspan></text>
<rect class="border" x="2.95" y="770.4" width="340.95" height="241.6"/>
<rect class="strip" x="2.95" y="714.3" width="340.95" height="56.1"/>
<text class="st" transform="translate(173.42,750.95) rotate(0.03) scale(0.9804,1)">Vigor</text>
<line class="tick" x1="49.5" y1="1012.6" x2="49.5" y2="1022.5"/>
<text class="ax" transform="translate(49.5,1046.4) rotate(0.03) scale(0.9709,1)">0</text>
<line class="tick" x1="129" y1="1012.6" x2="129" y2="1022.5"/>
<text class="ax" transform="translate(129,1046.4) rotate(0.03) scale(0.9709,1)">1</text>
<line class="tick" x1="208.5" y1="1012.6" x2="208.5" y2="1022.5"/>
<text class="ax" transform="translate(208.5,1046.4) rotate(0.03) scale(0.9709,1)">2</text>
<line class="tick" x1="288" y1="1012.6" x2="288" y2="1022.5"/>
<text class="ax" transform="translate(288,1046.4) rotate(0.03) scale(0.9709,1)">3</text>
</g>
<g>
<rect class="panel" x="374" y="770.4" width="340.95" height="241.6"/>
<line class="zero" x1="420.6" y1="770.4" x2="420.6" y2="1012"/>
<path class="eb" stroke="#4E7CBB" d="M459.8 815.8H504.4M459.8 810.2V821.4M504.4 810.2V821.4"/>
<circle cx="482.5" cy="815.8" r="8.3" fill="#4E7CBB"/>
<text class="star" transform="translate(483.28,808.1) rotate(0.03) scale(1.0000,1)" fill="#4E7CBB">***</text>
<text class="nl" transform="translate(509.12,808.71) rotate(0.03) scale(0.9901,1)">n <tspan class="eq" dx="0.31" dy="-1.3">=</tspan><tspan dx="1.56" dy="1.3"> 8</tspan></text>
<text class="il" transform="translate(512.01,833.43) rotate(0.03) scale(0.9901,1)"><tspan class="it">I</tspan><tspan class="sup" dx="1.77" dy="-8.7">2</tspan><tspan dx="0.29" dy="8.7"> </tspan><tspan class="eq" dx="0.81" dy="-0.4">=</tspan><tspan dx="1.21" dy="0.4"> 0.19</tspan></text>
<path class="eb" stroke="#9E9E9E" d="M544.8 891.3H656.1M544.8 885.7V896.9M656.1 885.7V896.9"/>
<circle cx="600.2" cy="891.3" r="8.3" fill="#9E9E9E"/>
<text class="star" transform="translate(600.98,883.6) rotate(0.03) scale(1.0000,1)" fill="#9E9E9E">***</text>
<text class="nl e" transform="translate(544.4,884.65) rotate(0.03) scale(0.9901,1)">n <tspan class="eq" dx="0.31" dy="-1.3">=</tspan><tspan dx="1.56" dy="1.3"> 23</tspan></text>
<text class="il e" transform="translate(544.2,909.33) rotate(0.03) scale(0.9901,1)"><tspan class="it">I</tspan><tspan class="sup" dx="1.77" dy="-8.7">2</tspan><tspan dx="0.29" dy="8.7"> </tspan><tspan class="eq" dx="0.81" dy="-0.4">=</tspan><tspan dx="1.21" dy="0.4"> 0.94</tspan></text>
<path class="eb" stroke="#DC342A" d="M467.9 966.8H501.4M467.9 961.2V972.4M501.4 961.2V972.4"/>
<circle cx="484.4" cy="966.8" r="8.3" fill="#DC342A"/>
<text class="star" transform="translate(485.18,959.1) rotate(0.03) scale(1.0000,1)" fill="#DC342A">***</text>
<text class="nl" transform="translate(506.12,959.75) rotate(0.03) scale(0.9901,1)">n <tspan class="eq" dx="0.31" dy="-1.3">=</tspan><tspan dx="1.56" dy="1.3"> 9</tspan></text>
<text class="il" transform="translate(509.01,984.51) rotate(0.03) scale(0.9901,1)"><tspan class="it">I</tspan><tspan class="sup" dx="1.77" dy="-8.7">2</tspan><tspan dx="0.29" dy="8.7"> </tspan><tspan class="eq" dx="0.81" dy="-0.4">=</tspan><tspan dx="1.21" dy="0.4"> 0.04</tspan></text>
<rect class="border" x="374" y="770.4" width="340.95" height="241.6"/>
<rect class="strip" x="374" y="714.3" width="340.95" height="56.1"/>
<text class="st" transform="translate(544.48,750.95) rotate(0.03) scale(0.9804,1)">Vitality</text>
<line class="tick" x1="420.7" y1="1012.6" x2="420.7" y2="1022.5"/>
<text class="ax" transform="translate(420.7,1046.4) rotate(0.03) scale(0.9709,1)">0</text>
<line class="tick" x1="532" y1="1012.6" x2="532" y2="1022.5"/>
<text class="ax" transform="translate(532,1046.4) rotate(0.03) scale(0.9709,1)">1</text>
<line class="tick" x1="643.3" y1="1012.6" x2="643.3" y2="1022.5"/>
<text class="ax" transform="translate(643.3,1046.4) rotate(0.03) scale(0.9709,1)">2</text>
</g>
<text class="xt" transform="translate(915.7,1079.2) rotate(0.03) scale(0.9804,1)">Effect Size</text>
<text class="lt" transform="translate(1301.3,835.9) rotate(0.03) scale(1.0000,1)">Gender group</text>
<circle cx="1308.8" cy="868.8" r="8.6" fill="#4E7CBB"/>
<text class="lg" transform="translate(1337.2,876.5) rotate(0.03) scale(0.9804,1)">Male &gt; 60%</text>
<circle cx="1308.8" cy="889.15" r="8.6" fill="#9E9E9E"/>
<text class="lg" transform="translate(1337.2,896.9) rotate(0.03) scale(0.9804,1)">Gender Balance</text>
<circle cx="1308.8" cy="909.5" r="8.6" fill="#DC342A"/>
<text class="lg" transform="translate(1337.2,917.25) rotate(0.03) scale(0.9804,1)">Female &gt; 60%</text>
</svg>
</body></html>
